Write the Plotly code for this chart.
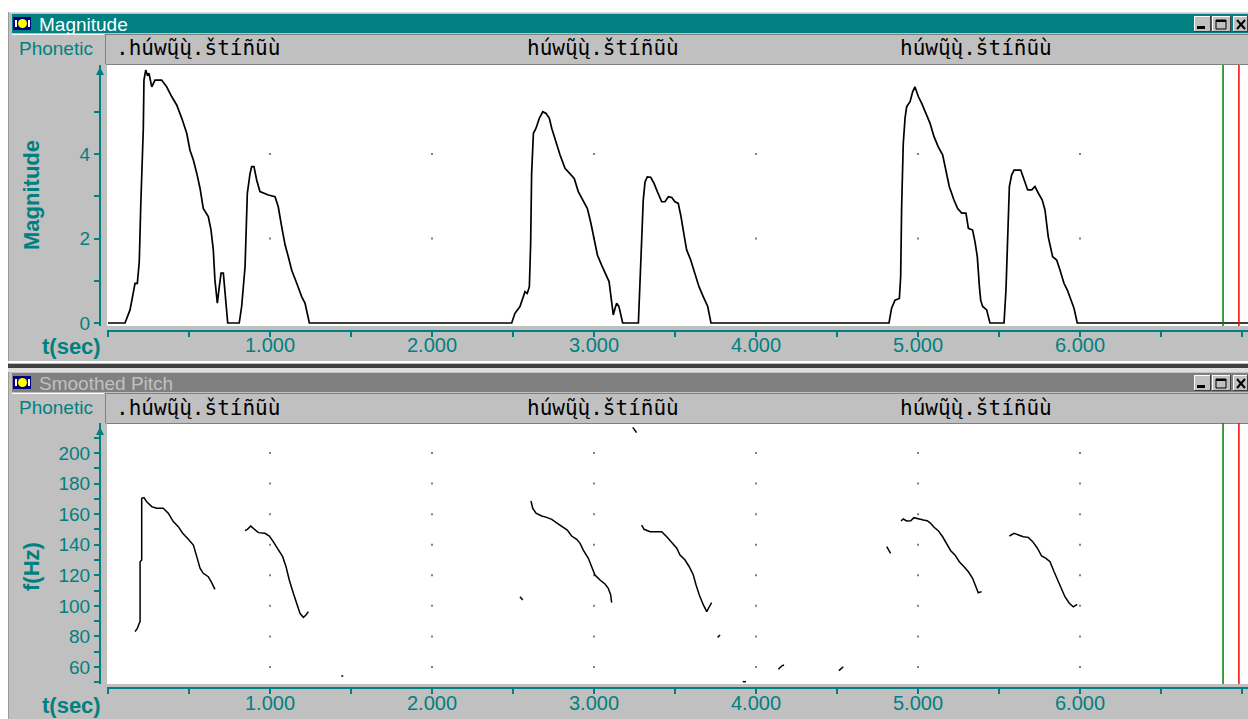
import plotly.graph_objects as go

W, H = 1248, 719
TEAL = "#008080"
BG = "#C0C0C0"
SANS = "Liberation Sans, Arial, sans-serif"
MONO = "DejaVu Sans Mono, monospace"

# ---------------- data ----------------
# Magnitude envelope (time in s, magnitude)
mag_t_1a = [0.105, 0.136, 0.156, 0.167, 0.181, 0.193, 0.202, 0.214, 0.218, 0.222, 0.233, 0.243, 0.253,
            0.270, 0.290, 0.331, 0.362, 0.393, 0.424, 0.455, 0.486, 0.506, 0.527, 0.548, 0.568, 0.588,
            0.619, 0.636, 0.650, 0.660, 0.675, 0.687, 0.698, 0.712, 0.722, 0.733, 0.739]
mag_v_1a = [0, 0.31, 0.78, 0.94, 0.94, 1.45, 2.75, 3.86, 4.61, 5.75, 5.99, 5.87, 5.91,
            5.59, 5.75, 5.75, 5.59, 5.36, 5.16, 4.85, 4.49, 4.09, 3.86, 3.54, 3.19, 2.71,
            2.52, 2.20, 1.73, 1.02, 0.47, 0.86, 1.18, 1.18, 0.70, 0.35, 0]
mag_t_1b = [0.810, 0.825, 0.846, 0.852, 0.860, 0.877, 0.887, 0.901, 0.918, 0.938, 0.959, 0.990,
            1.031, 1.051, 1.072, 1.093, 1.113, 1.134, 1.165, 1.196, 1.216, 1.243]
mag_v_1b = [0, 0.39, 1.33, 1.96, 3.07, 3.54, 3.70, 3.70, 3.38, 3.11, 3.07, 3.03,
            2.99, 2.75, 2.28, 1.85, 1.57, 1.25, 0.94, 0.62, 0.47, 0]
mag_t_2a = [2.492, 2.512, 2.543, 2.564, 2.574, 2.588, 2.601, 2.609, 2.615, 2.626, 2.642, 2.663, 2.684,
            2.704, 2.724, 2.739, 2.765, 2.790, 2.821, 2.848, 2.878, 2.903, 2.934, 2.959, 2.981, 3.000,
            3.021, 3.047, 3.072, 3.093, 3.105, 3.119, 3.130, 3.140, 3.154, 3.165, 3.177]
mag_v_2a = [0, 0.23, 0.39, 0.62, 0.74, 0.70, 0.86, 1.89, 3.54, 4.49, 4.61, 4.85, 5.00,
            4.96, 4.85, 4.61, 4.29, 3.98, 3.66, 3.54, 3.42, 3.11, 2.87, 2.71, 2.36, 1.96,
            1.61, 1.37, 1.14, 0.98, 0.62, 0.19, 0.35, 0.47, 0.39, 0.19, 0]
mag_t_2b = [3.274, 3.284, 3.294, 3.304, 3.315, 3.329, 3.350, 3.370, 3.391, 3.418, 3.438, 3.459,
            3.480, 3.500, 3.520, 3.537, 3.556, 3.572, 3.597, 3.623, 3.648, 3.675, 3.702, 3.722]
mag_v_2b = [0, 0.86, 2.08, 2.91, 3.34, 3.46, 3.45, 3.31, 3.11, 2.87, 2.87, 2.99,
            2.97, 2.87, 2.83, 2.52, 2.08, 1.73, 1.49, 1.18, 0.86, 0.62, 0.39, 0]
mag_t_3a = [4.821, 4.837, 4.858, 4.885, 4.893, 4.899, 4.909, 4.920, 4.930, 4.951, 4.967, 4.981,
            5.002, 5.023, 5.043, 5.074, 5.099, 5.125, 5.152, 5.173, 5.193, 5.222, 5.245, 5.270,
            5.296, 5.311, 5.337, 5.352, 5.366, 5.379, 5.387, 5.399, 5.424, 5.444]
mag_v_3a = [0, 0.35, 0.54, 0.58, 1.10, 2.75, 4.25, 4.85, 5.12, 5.24, 5.47, 5.59,
            5.36, 5.20, 5.00, 4.73, 4.41, 4.17, 3.98, 3.62, 3.23, 2.91, 2.71, 2.60,
            2.60, 2.24, 2.20, 1.92, 1.57, 0.86, 0.54, 0.39, 0.31, 0]
mag_t_3b = [5.531, 5.543, 5.554, 5.564, 5.578, 5.593, 5.634, 5.654, 5.677, 5.702, 5.722, 5.743,
            5.767, 5.784, 5.804, 5.831, 5.856, 5.877, 5.901, 5.922, 5.943, 5.963, 5.983]
mag_v_3b = [0, 0.78, 2.12, 3.23, 3.50, 3.62, 3.62, 3.38, 3.15, 3.15, 3.23, 3.07,
            2.91, 2.67, 2.04, 1.57, 1.49, 1.25, 0.94, 0.78, 0.58, 0.35, 0]
mag_start_t, mag_end_t = 0.0, 7.04

# Smoothed pitch segments (time in s, f in Hz)
pit_t_1a = [0.167, 0.181, 0.193, 0.198, 0.198, 0.208, 0.208, 0.222, 0.239, 0.249, 0.270, 0.300, 0.341,
            0.372, 0.403, 0.434, 0.461, 0.496, 0.527, 0.548, 0.568, 0.588, 0.619, 0.640, 0.660]
pit_f_1a = [83.1, 85.3, 88.6, 89.6, 128.9, 130.0, 170.4, 170.8, 168.1, 167.1, 164.9, 163.8, 163.8,
            160.6, 155.1, 151.8, 147.5, 143.5, 139.8, 132.2, 124.6, 121.3, 119.1, 115.2, 110.8]
pit_t_1b = [0.846, 0.860, 0.881, 0.897, 0.928, 0.969, 0.996, 1.020, 1.051, 1.078, 1.099, 1.119,
            1.144, 1.169, 1.185, 1.206, 1.222, 1.237]
pit_f_1b = [149.2, 150.1, 152.2, 150.7, 147.9, 147.5, 145.7, 142.0, 136.5, 132.2, 125.6, 116.9,
            108.2, 100.6, 95.1, 92.5, 94.0, 96.2]
pit_t_2a = [2.611, 2.622, 2.642, 2.677, 2.708, 2.739, 2.774, 2.811, 2.835, 2.862, 2.893, 2.914,
            2.934, 2.965, 2.986, 3.006, 3.037, 3.068, 3.088, 3.103, 3.109]
pit_f_2a = [168.6, 163.8, 160.6, 158.8, 157.9, 156.6, 154.0, 151.4, 149.6, 145.7, 143.5, 140.9,
            136.5, 131.1, 125.6, 120.2, 116.9, 114.3, 111.5, 107.1, 102.1]
pit_t_2b = [3.294, 3.309, 3.346, 3.418, 3.449, 3.480, 3.511, 3.531, 3.562, 3.588, 3.613, 3.630,
            3.650, 3.675, 3.696, 3.712, 3.726]
pit_f_2b = [152.9, 150.1, 148.5, 148.5, 145.2, 141.3, 137.7, 133.3, 130.0, 125.6, 120.2, 113.6,
            107.1, 100.6, 96.2, 99.4, 102.1]
pit_t_3a = [4.895, 4.909, 4.930, 4.955, 4.975, 5.002, 5.033, 5.057, 5.078, 5.099, 5.125, 5.152,
            5.177, 5.202, 5.228, 5.255, 5.284, 5.311, 5.337, 5.352, 5.372, 5.393]
pit_f_3a = [155.5, 156.8, 155.5, 155.7, 157.7, 156.8, 156.2, 155.7, 154.0, 151.4, 149.2, 145.2,
            140.5, 136.1, 133.3, 128.9, 125.6, 122.3, 118.0, 113.6, 108.6, 109.3]
pit_t_3b = [5.564, 5.593, 5.620, 5.650, 5.681, 5.708, 5.737, 5.763, 5.790, 5.815, 5.840, 5.866,
            5.887, 5.907, 5.934, 5.959, 5.983]
pit_f_3b = [145.7, 147.5, 146.4, 145.2, 144.8, 142.0, 137.7, 132.6, 131.1, 128.9, 122.3, 115.8,
            110.4, 106.0, 101.7, 99.4, 101.0]
# short stray pitch fragments
pit_stray_t = [[1.440, 1.452], [2.543, 2.560], [3.239, 3.263], [3.763, 3.778], [3.918, 3.938],
               [4.138, 4.160, 4.173], [4.512, 4.539], [4.807, 4.831]]
pit_stray_f = [[54.1, 54.1], [106.0, 103.8], [216.8, 213.3], [79.4, 80.9], [50.4, 50.4],
               [58.5, 60.8, 61.3], [57.6, 60.2], [138.7, 134.4]]

# axes
time_ticks = [0, 1, 2, 3, 4, 5, 6, 7]
time_tick_text = ["", "1.000", "2.000", "3.000", "4.000", "5.000", "6.000", ""]
time_minor = [0.5, 1.5, 2.5, 3.5, 4.5, 5.5, 6.5]
mag_ticks = [0, 2, 4]
mag_minor = [1, 3, 5]
hz_ticks = [60, 80, 100, 120, 140, 160, 180, 200]
hz_minor = [50, 70, 90, 110, 130, 150, 170, 190, 210]
grid_t = [1, 2, 3, 4, 5, 6]
grid_mag = [2, 4]
grid_hz = [60, 80, 100, 120, 140, 160, 180, 200]

# phonetic transcription (start time in s, text)
phon_t = [0.037, 2.574, 4.877]
phon_text = [".húwų̃ų̀.štíñũù", "húwų̃ų̀.štíñũù", "húwų̃ų̀.štíñũù"]

cursor_t = [6.883, 6.981]
cursor_col = ["#008000", "#FF0000"]

# ---------------- geometry helpers (pixels -> paper) ----------------
def px(x):
    return x / W

def py(y):
    return 1 - y / H

PX_PER_S = 162.0
T0_PX = 108.0
PLOT_L = 107

def trange():
    return [(PLOT_L - T0_PX) / PX_PER_S, (W - T0_PX) / PX_PER_S]

shapes = []
annotations = []

def rect(x0, y0, x1, y1, fill, layer="below", line_color=None, lw=0):
    shapes.append(dict(type="rect", xref="paper", yref="paper",
                       x0=px(x0), x1=px(x1), y0=py(y1), y1=py(y0),
                       fillcolor=fill, line=dict(width=lw, color=line_color or fill),
                       layer=layer))

def pline(x0, y0, x1, y1, color, w=1, layer="below"):
    shapes.append(dict(type="line", xref="paper", yref="paper",
                       x0=px(x0), x1=px(x1), y0=py(y0), y1=py(y1),
                       line=dict(color=color, width=w), layer=layer))

def text(x, y, s, size, color, xanchor="left", bold=False, family=SANS, angle=0, xref="paper"):
    annotations.append(dict(x=(x if xref != "paper" else px(x)), y=py(y), xref=xref, yref="paper",
                            text=("<b>%s</b>" % s if bold else s), showarrow=False,
                            xanchor=xanchor, yanchor="middle", textangle=angle,
                            font=dict(family=family, size=size, color=color)))

# ---------------- window chrome ----------------
rect(0, 0, W, 12, "white")
rect(0, 0, 8, H, "white")
pline(8, 12.5, W, 12.5, "#DFDFDF", 1)
pline(8.5, 12, 8.5, H, "#9A9A9A", 1)


def window(top, title, active):
    # title bar
    rect(12, top, W, top + 19, TEAL if active else "#808080")
    # icon
    rect(13, top + 3, 31, top + 16, "#000080")
    shapes.append(dict(type="circle", xref="paper", yref="paper", x0=px(18), x1=px(27),
                       y0=py(top + 14), y1=py(top + 5), fillcolor="#FFFF00",
                       line=dict(width=0), layer="below"))
    rect(15, top + 6, 17, top + 13, "white")
    rect(28, top + 6, 30, top + 13, "white")
    text(37, top + 10.5, title, 19, "white" if active else BG)
    # buttons
    by0, by1 = top + 2, top + 18
    for (bx0, bx1) in [(1194, 1211), (1212, 1231), (1233, 1248)]:
        rect(bx0, by0, bx1, by1, BG)
        pline(bx0, by0 + 0.5, bx1, by0 + 0.5, "white", 1)
        pline(bx0 + 0.5, by0, bx0 + 0.5, by1, "white", 1)
        pline(bx0, by1 - 0.5, bx1, by1 - 0.5, "#404040", 1)
        pline(bx1 - 0.5, by0, bx1 - 0.5, by1, "#404040", 1)
    rect(1197, top + 12, 1205, top + 15, "black")
    rect(1216, top + 6, 1226, top + 15, BG, line_color="black", lw=1)
    rect(1216, top + 6, 1226, top + 8, "black")
    pline(1237, top + 6, 1245, top + 15, "black", 2)
    pline(1245, top + 6, 1237, top + 15, "black", 2)
    # phonetic row
    rect(105, top + 20, W, top + 50, BG)
    pline(105, top + 20.5, W, top + 20.5, "#808080", 1)
    pline(105.5, top + 20, 105.5, top + 50, "#808080", 1)
    pline(106, top + 50.5, W, top + 50.5, "#808080", 1)
    pline(12, top + 20.5, 104, top + 20.5, "white", 1)
    text(17, top + 34.5, "Phonetic", 19, TEAL)


window(14, "Magnitude", True)
window(373, "Smoothed Pitch", False)
# separator between the two windows
pline(8, 362, W, 362, "white", 2)
rect(8, 364, W, 368, "#404040")
rect(8, 368, W, 372, "#DFDFDF")

# phonetic transcription text
for t, s in zip(phon_t, phon_text):
    text(t, 48, s, 21, "black", family=MONO, xref="x")
    text(t, 408, s, 21, "black", family=MONO, xref="x")

# axis titles
text(31, 195, "Magnitude", 22, TEAL, xanchor="center", bold=True, angle=-90)
text(31, 566, "f(Hz)", 22, TEAL, xanchor="center", bold=True, angle=-90)
text(71, 346, "t(sec)", 22, TEAL, xanchor="center", bold=True)
text(71, 705, "t(sec)", 22, TEAL, xanchor="center", bold=True)

# y-axis arrows
for tip in (67, 427):
    shapes.append(dict(type="path", xref="paper", yref="paper",
                       path="M %f,%f L %f,%f L %f,%f Z" % (px(100), py(tip), px(96), py(tip + 8),
                                                          px(104), py(tip + 8)),
                       fillcolor=TEAL, line=dict(width=0), layer="above"))

# cursors
for t, c in zip(cursor_t, cursor_col):
    for xr, yr in (("x", "y domain"), ("x2", "y2 domain")):
        shapes.append(dict(type="line", xref=xr, yref=yr, x0=t, x1=t, y0=0, y1=1,
                           line=dict(color=c, width=1.5), layer="above"))

# ---------------- traces ----------------
fig = go.Figure()

mag_t = [mag_start_t] + mag_t_1a + mag_t_1b + mag_t_2a + mag_t_2b + mag_t_3a + mag_t_3b + [mag_end_t]
mag_v = [0] + mag_v_1a + mag_v_1b + mag_v_2a + mag_v_2b + mag_v_3a + mag_v_3b + [0]

gx, gy = [], []
for t in grid_t:
    for v in grid_mag:
        gx.append(t); gy.append(v)
fig.add_trace(go.Scatter(x=gx, y=gy, mode="markers", xaxis="x", yaxis="y",
                         marker=dict(color="#808080", size=2, symbol="square", line=dict(width=0)),
                         hoverinfo="skip"))
fig.add_trace(go.Scatter(x=mag_t, y=mag_v, mode="lines", xaxis="x", yaxis="y",
                         line=dict(color="black", width=1.7)))

gx, gy = [], []
for t in grid_t:
    for v in grid_hz:
        gx.append(t); gy.append(v)
fig.add_trace(go.Scatter(x=gx, y=gy, mode="markers", xaxis="x2", yaxis="y2",
                         marker=dict(color="#808080", size=2, symbol="square", line=dict(width=0)),
                         hoverinfo="skip"))

pt, pf = [], []
segs_t = [pit_t_1a, pit_t_1b, pit_t_2a, pit_t_2b, pit_t_3a, pit_t_3b] + pit_stray_t
segs_f = [pit_f_1a, pit_f_1b, pit_f_2a, pit_f_2b, pit_f_3a, pit_f_3b] + pit_stray_f
for st, sf in zip(segs_t, segs_f):
    pt += st + [None]
    pf += sf + [None]
fig.add_trace(go.Scatter(x=pt, y=pf, mode="lines", xaxis="x2", yaxis="y2", connectgaps=False,
                         line=dict(color="black", width=1.5)))

# empty traces so the label-only time axes get drawn
fig.add_trace(go.Scatter(x=[None], y=[None], xaxis="x3", yaxis="y", mode="lines",
                         hoverinfo="skip", showlegend=False))
fig.add_trace(go.Scatter(x=[None], y=[None], xaxis="x4", yaxis="y2", mode="lines",
                         hoverinfo="skip", showlegend=False))

# ---------------- axes ----------------
tickfont = dict(family=SANS, size=19, color=TEAL)
xtickfont = dict(family=SANS, size=20, color=TEAL)

def xaxis_cfg(axis_y):
    return dict(domain=[px(PLOT_L), 1], range=trange(), anchor="free", position=py(axis_y),
                showline=True, linecolor=TEAL, linewidth=2, ticks="outside", ticklen=5,
                tickwidth=2, tickcolor=TEAL, tickvals=time_ticks, showticklabels=False,
                showgrid=False, zeroline=False, fixedrange=True,
                minor=dict(tickvals=time_minor, ticks="outside", ticklen=5, tickwidth=2,
                           tickcolor=TEAL, showgrid=False))

def xlabel_cfg(over, label_y):
    # label-only companion axis sharing the time scale
    return dict(overlaying=over, domain=[px(PLOT_L), 1], range=trange(), anchor="free",
                position=py(label_y), showline=False, ticks="", tickvals=time_ticks,
                ticktext=time_tick_text, tickfont=xtickfont, showgrid=False, zeroline=False,
                fixedrange=True, side="bottom")

def yaxis_cfg(top, bottom, rng, ticks, minor):
    return dict(domain=[py(bottom), py(top)], range=rng, anchor="free", position=px(100),
                showline=True, linecolor=TEAL, linewidth=2, ticks="outside", ticklen=5,
                tickwidth=2, tickcolor=TEAL, tickvals=ticks, ticktext=[str(v) for v in ticks],
                tickfont=tickfont, showgrid=False, zeroline=False, fixedrange=True,
                minor=dict(tickvals=minor, ticks="outside", ticklen=5, tickwidth=2,
                           tickcolor=TEAL, showgrid=False))

MAG_PX = 42.25   # px per magnitude unit
HZ_PX = 214 / 140.0
mag_range = [-(326 - 323) / MAG_PX, (323 - 65) / MAG_PX]
hz_range = [60 - (684 - 667) / HZ_PX, 200 + (453 - 423) / HZ_PX]

fig.update_layout(
    width=W, height=H, margin=dict(l=0, r=0, t=0, b=0, pad=0, autoexpand=False),
    paper_bgcolor=BG, plot_bgcolor="white", showlegend=False,
    xaxis=xaxis_cfg(331),
    yaxis=yaxis_cfg(65, 326, mag_range, mag_ticks, mag_minor),
    xaxis2=xaxis_cfg(688),
    yaxis2=yaxis_cfg(423, 684, hz_range, hz_ticks, hz_minor),
    xaxis3=xlabel_cfg("x", 331),
    xaxis4=xlabel_cfg("x2", 689),
    shapes=shapes, annotations=annotations,
)

fig.write_html("out.html", config={"displayModeBar": False})
